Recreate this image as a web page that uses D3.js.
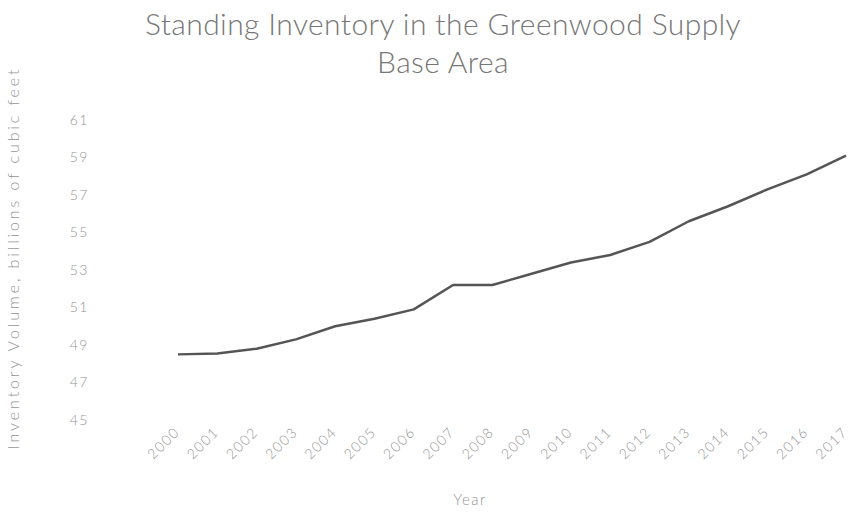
<!DOCTYPE html>
<html>
<head>
<meta charset="utf-8">
<script src="https://d3js.org/d3.v7.min.js"></script>
<style>
  body { margin: 0; background: #fff; }
  text { font-family: Lato, "Open Sans", sans-serif; font-weight: 300; }
</style>
</head>
<body>
<div id="chart"></div>
<script>
// data
var years = ["2000","2001","2002","2003","2004","2005","2006","2007","2008",
             "2009","2010","2011","2012","2013","2014","2015","2016","2017"];
var volume = [48.5, 48.55, 48.8, 49.3, 50.0, 50.4, 50.9, 52.2, 52.2,
              52.8, 53.4, 53.8, 54.5, 55.6, 56.4, 57.3, 58.1, 59.1];
var yTicks = [45, 47, 49, 51, 53, 55, 57, 59, 61];
var titleLines = ["Standing Inventory in the Greenwood Supply", "Base Area"];

var W = 852, H = 531;
var svg = d3.select("#chart").append("svg")
  .attr("width", W).attr("height", H);

var x = d3.scalePoint().domain(years).range([178, 846]);
var y = d3.scaleLinear().domain([45, 61]).range([420, 120]);

var lblColor = "#959595";

// title
svg.append("text")
  .attr("text-anchor", "middle")
  .style("font-size", "30px").style("fill", "#767676")
  .style("letter-spacing", "0.4px")
  .selectAll("tspan").data(titleLines).enter().append("tspan")
  .attr("x", 443)
  .attr("y", function(d, i) { return 35 + i * 38; })
  .text(function(d) { return d; });

// y axis, no line
var gy = svg.append("g")
  .attr("transform", "translate(89,0)")
  .call(d3.axisLeft(y).tickValues(yTicks).tickSize(0).tickPadding(0));
gy.select(".domain").remove();
gy.selectAll("text")
  .style("font-family", "Lato, sans-serif").style("font-weight", 300)
  .style("font-size", "14px").style("fill", lblColor)
  .style("letter-spacing", "1.5px");

// x axis, rotated labels
var gx = svg.append("g")
  .attr("transform", "translate(0,428)")
  .call(d3.axisBottom(x).tickSize(0).tickPadding(0));
gx.select(".domain").remove();
gx.selectAll("text")
  .style("font-family", "Lato, sans-serif").style("font-weight", 300)
  .style("font-size", "14px").style("fill", lblColor)
  .style("letter-spacing", "1.5px")
  .attr("text-anchor", "end")
  .attr("dy", "0.35em")
  .attr("dx", "-2")
  .attr("transform", "rotate(-45)");

// line
var line = d3.line()
  .x(function(d, i) { return x(years[i]); })
  .y(function(d) { return y(d); });

svg.append("path")
  .datum(volume)
  .attr("d", line)
  .attr("fill", "none")
  .attr("stroke", "#555555")
  .attr("stroke-width", 2.5)
  .attr("stroke-linejoin", "round");

// axis titles
svg.append("text")
  .attr("x", 470).attr("y", 505)
  .attr("text-anchor", "middle")
  .style("font-size", "15px").style("fill", lblColor)
  .style("letter-spacing", "1.5px")
  .text("Year");

svg.append("text")
  .attr("transform", "translate(19,258) rotate(-90)")
  .attr("text-anchor", "middle")
  .style("font-size", "16px").style("fill", lblColor)
  .style("letter-spacing", "2.9px")
  .text("Inventory Volume, billions of cubic feet");
</script>
</body>
</html>
